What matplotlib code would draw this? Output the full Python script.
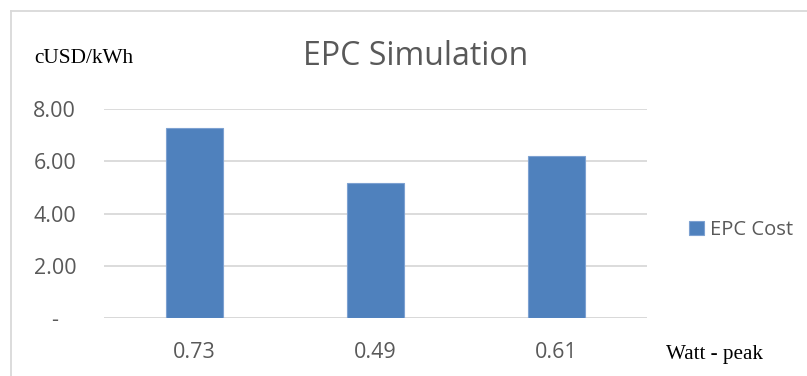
import matplotlib.pyplot as plt
from matplotlib.lines import Line2D

# EPC cost per watt-peak category
categories = ["0.73", "0.49", "0.61"]
epc_cost = [7.29, 5.18, 6.19]
yticks = [0, 2, 4, 6, 8]
ytick_labels = ["-   ", "2.00", "4.00", "6.00", "8.00"]

W, H = 807, 376
bar_color = "#4f81bd"
grid_color = "#d9d9d9"
text_color = "#595959"

fig = plt.figure(figsize=(W / 100, H / 100), dpi=100)
fig.patch.set_facecolor("white")

# plot area in pixel coords
left, right, top, bottom = 104, 647, 109, 318
ax = fig.add_axes([left / W, 1 - bottom / H, (right - left) / W, (bottom - top) / H])

x = range(len(categories))
ax.bar(x, epc_cost, width=0.31, color=bar_color, edgecolor="#7da1d1",
       linewidth=0.8, label="EPC Cost", zorder=3)

ax.set_xlim(-0.5, len(categories) - 0.5)
ax.set_ylim(0, 8)
ax.set_yticks(yticks)
ax.set_yticklabels(ytick_labels)
ax.set_xticks(list(x))
ax.set_xticklabels(categories)
ax.yaxis.grid(True, color=grid_color, linewidth=1.3, zorder=0)
ax.set_axisbelow(True)
for s in ax.spines.values():
    s.set_visible(False)
ax.axhline(0, color=grid_color, linewidth=1.3, zorder=1)
ax.tick_params(length=0, labelcolor=text_color, labelsize=15.5)
ax.tick_params(axis="y", pad=20)
ax.tick_params(axis="x", pad=17)
for t in ax.get_xticklabels() + ax.get_yticklabels():
    t.set_fontfamily("Open Sans")

fig.text(416 / W, 1 - 65 / H, "EPC Simulation", ha="center", va="baseline",
         fontsize=23, color=text_color, family="Open Sans")
fig.text(34 / W, 1 - 63 / H, "cUSD/kWh", ha="left", va="baseline",
         fontsize=15.3, color="black", family="Liberation Serif")
fig.text(666 / W, 1 - 359 / H, "Watt - peak", ha="left", va="baseline",
         fontsize=15.2, color="black", family="Liberation Serif")

leg = ax.legend(loc="center left", bbox_to_anchor=(671 / W, 1 - 230 / H),
                bbox_transform=fig.transFigure, frameon=False,
                handlelength=0.75, handleheight=0.75, handletextpad=0.3,
                prop={"family": "Open Sans", "size": 14.5})
for t in leg.get_texts():
    t.set_color(text_color)

# chart frame (top and left edges)
fx = 11 / W
fy = 1 - 10.5 / H
fig.add_artist(Line2D([fx, 1], [fy, fy], color=grid_color, linewidth=1.3,
                      transform=fig.transFigure))
fig.add_artist(Line2D([fx, fx], [0, fy], color=grid_color, linewidth=1.3,
                      transform=fig.transFigure))

fig.savefig("out.png", dpi=100)
